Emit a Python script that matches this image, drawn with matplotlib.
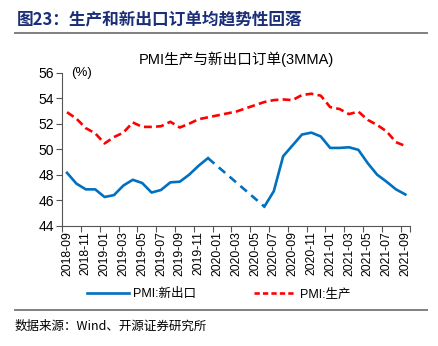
import numpy as np
import matplotlib
matplotlib.use("Agg")
from matplotlib import pyplot as plt
from matplotlib.lines import Line2D

# monthly, 2018-09 .. 2021-09
months = ["2018-09", "2018-10", "2018-11", "2018-12",
          "2019-01", "2019-02", "2019-03", "2019-04", "2019-05", "2019-06",
          "2019-07", "2019-08", "2019-09", "2019-10", "2019-11", "2019-12",
          "2020-01", "2020-02", "2020-03", "2020-04", "2020-05", "2020-06",
          "2020-07", "2020-08", "2020-09", "2020-10", "2020-11", "2020-12",
          "2021-01", "2021-02", "2021-03", "2021-04", "2021-05", "2021-06",
          "2021-07", "2021-08", "2021-09"]

pmi_export = [48.15, 47.3, 46.85, 46.85, 46.25, 46.4, 47.15, 47.6, 47.35, 46.6,
              46.8, 47.4, 47.45, 48.0, 48.7, 49.3,
              np.nan, np.nan, np.nan, np.nan, np.nan,
              45.5, 46.7, 49.45, 50.3, 51.15, 51.3, 51.0,
              50.1, 50.1, 50.15, 49.95, 48.9, 48.0, 47.45, 46.85, 46.45]

pmi_production = [52.9, 52.4, 51.65, 51.25, 50.45, 50.95, 51.3, 52.1, 51.75, 51.75,
                  51.8, 52.15, 51.7, 52.0, 52.35, 52.5, 52.65, 52.8, 52.95, 53.2,
                  53.45, 53.7, 53.85, 53.9, 53.85, 54.25, 54.35, 54.2,
                  53.3, 53.15, 52.75, 52.95, 52.3, 51.9, 51.4, 50.55, 50.25]

BLUE = "#0070C0"
RED = "#FF0000"
LATIN_CJK = ["Liberation Sans", "Noto Sans CJK SC"]

fig = plt.figure(figsize=(4.38, 3.46), dpi=100)
ax = fig.add_axes([0.1422, 0.3477, 0.7940, 0.4422])

x = np.arange(len(months))
exp = np.array(pmi_export, dtype=float)
ax.plot(x, exp, color=BLUE, lw=1.9, solid_joinstyle="round")

# gap months drawn as a dashed bridge
valid = np.where(~np.isnan(exp))[0]
gap_start = valid[np.where(np.diff(valid) > 1)[0][0]]
gap_end = valid[np.where(np.diff(valid) > 1)[0][0] + 1]
ax.plot([gap_start, gap_end], [exp[gap_start], exp[gap_end]],
        color=BLUE, lw=1.9, dashes=(3.2, 2.2))

ax.plot(x, pmi_production, color=RED, lw=1.9, dashes=(3.0, 1.6))

ax.set_xlim(-0.5, len(months) - 0.5)
ax.set_ylim(44, 56)
ax.set_yticks(np.arange(44, 57, 2))

# labels centred on categories, tick marks on category boundaries
ax.set_xticks(x[::2])
ax.set_xticklabels(months[::2], rotation=90, fontsize=8.8,
                   family="Liberation Sans")
ax.set_xticks(np.append(np.arange(-0.5, len(months), 2), len(months) - 0.5),
              minor=True)
ax.tick_params(axis="x", which="major", length=0, pad=4)
ax.tick_params(axis="x", which="minor", length=4, color="#555555", width=0.8)
ax.tick_params(axis="y", length=4, color="#555555", width=0.8, pad=2,
               labelsize=10)
for lab in ax.get_yticklabels():
    lab.set_family("Liberation Sans")

for s in ["top", "right"]:
    ax.spines[s].set_visible(False)
for s in ["left", "bottom"]:
    ax.spines[s].set_color("#555555")
    ax.spines[s].set_linewidth(0.8)

ax.text(0.025, 1.0, "(%)", transform=ax.transAxes, fontsize=9.5,
        family="Liberation Sans", va="center", ha="left")
ax.set_title("PMI生产与新出口订单(3MMA)", fontsize=10.5, family=LATIN_CJK,
             pad=6)

handles = [Line2D([], [], color=BLUE, lw=1.9),
           Line2D([], [], color=RED, lw=1.9, dashes=(2.0, 1.2))]
fig.legend(handles, ["PMI:新出口", "PMI:生产"], loc="center",
           bbox_to_anchor=(0.5, 1 - 294 / 346), ncol=2, frameon=False,
           prop={"family": LATIN_CJK, "size": 9}, handlelength=3.3,
           handletextpad=0.4, columnspacing=4.6)

# header and footer
fig.text(17 / 438, 1 - 20 / 346, "图23：生产和新出口订单均趋势性回落",
         fontsize=12, fontweight="bold", color="#1B2E78",
         family=["Noto Sans CJK SC"], va="center", ha="left")
fig.add_artist(Line2D([15 / 438, 427 / 438], [1 - 33 / 346, 1 - 33 / 346],
                      color="#808080", lw=1.4))
fig.add_artist(Line2D([15 / 438, 427 / 438], [1 - 310 / 346, 1 - 310 / 346],
                      color="#808080", lw=1.4))
fig.text(15 / 438, 1 - 326 / 346, "数据来源：Wind、开源证券研究所",
         fontsize=9, family=["Noto Sans CJK SC"], va="center", ha="left")

fig.savefig("out.png", dpi=100)
